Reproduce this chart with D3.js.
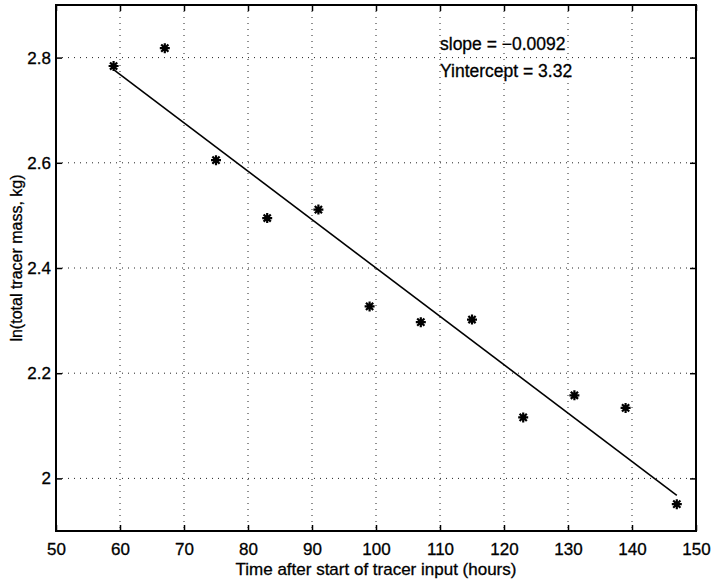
<html>
<head>
<title>Tracer mass</title>
<script src="https://d3js.org/d3.v7.min.js"></script>
<style>
body { margin: 0; background: white; }
text { font-family: "Liberation Sans", Arial, sans-serif; fill: black; stroke: black; stroke-width: 0.3px; }
.grid line { stroke: #222; stroke-width: 1; stroke-dasharray: 1,5; }
</style>
</head>
<body>
<svg width="712" height="581"></svg>
<script>
// hours after start of tracer input
var hours = [59, 67, 75, 83, 91, 99, 107, 115, 123, 131, 139, 147];
// ln(total tracer mass, kg)
var lnMass = [2.784, 2.818, 2.605, 2.495, 2.511, 2.327, 2.297, 2.302, 2.116, 2.158, 2.134, 1.951];
var slope = -0.0092;
var yIntercept = 3.32;
var xTicks = [50, 60, 70, 80, 90, 100, 110, 120, 130, 140, 150];
var yTicks = [2, 2.2, 2.4, 2.6, 2.8];

var svg = d3.select("svg");
var pLeft = 56, pRight = 696, pTop = 5, pBottom = 531;

var x = d3.scaleLinear().domain([50, 150]).range([pLeft, pRight]);
var y = d3.scaleLinear().domain([1.9, 2.9]).range([pBottom, pTop]);

// dotted grid
var grid = svg.append("g").attr("class", "grid");
grid.selectAll(".gx").data(xTicks.slice(1, -1)).enter().append("line")
  .attr("x1", d => x(d)).attr("x2", d => x(d))
  .attr("y1", pTop).attr("y2", pBottom);
grid.selectAll(".gy").data(yTicks).enter().append("line")
  .attr("y1", d => y(d)).attr("y2", d => y(d))
  .attr("x1", pLeft).attr("x2", pRight);

// axes with inward ticks
svg.append("g").attr("transform", "translate(0," + pBottom + ")")
  .call(d3.axisBottom(x).tickValues(xTicks).tickSize(-6).tickPadding(12).tickFormat(d3.format("d")))
  .call(g => g.select(".domain").remove())
  .call(g => g.selectAll("text").style("font-size", "17px"));
svg.append("g").attr("transform", "translate(0," + pTop + ")")
  .call(d3.axisTop(x).tickValues(xTicks).tickSize(-6).tickFormat(""))
  .call(g => g.select(".domain").remove());
svg.append("g").attr("transform", "translate(" + pLeft + ",0)")
  .call(d3.axisLeft(y).tickValues(yTicks).tickSize(-6).tickPadding(5).tickFormat(d => d === 2 ? "2" : d3.format(".1f")(d)))
  .call(g => g.select(".domain").remove())
  .call(g => g.selectAll("text").style("font-size", "17px"));
svg.append("g").attr("transform", "translate(" + pRight + ",0)")
  .call(d3.axisRight(y).tickValues(yTicks).tickSize(-6).tickFormat(""))
  .call(g => g.select(".domain").remove());
svg.selectAll(".tick line").attr("stroke", "black").attr("stroke-width", 1.5);

// frame
svg.append("rect").attr("x", pLeft).attr("y", pTop)
  .attr("width", pRight - pLeft).attr("height", pBottom - pTop)
  .attr("fill", "none").attr("stroke", "black").attr("stroke-width", 2);

// fitted line
var x0 = d3.min(hours), x1 = d3.max(hours);
svg.append("line")
  .attr("x1", x(x0)).attr("y1", y(yIntercept + slope * x0))
  .attr("x2", x(x1)).attr("y2", y(yIntercept + slope * x1))
  .attr("stroke", "black").attr("stroke-width", 1.6);

// asterisk markers
var star = "M-5,0H5M0,-5V5M-3.6,-3.6L3.6,3.6M-3.6,3.6L3.6,-3.6";
svg.append("g").selectAll("path").data(hours).enter().append("path")
  .attr("transform", (d, i) => "translate(" + x(d) + "," + y(lnMass[i]) + ")")
  .attr("d", star).attr("stroke", "black").attr("stroke-width", 2.2).attr("fill", "none");

// annotations
svg.append("text").attr("x", 440).attr("y", 50).style("font-size", "17.5px").text("slope = \u22120.0092");
svg.append("text").attr("x", 440).attr("y", 77).style("font-size", "17.5px").text("Yintercept = 3.32");

// axis labels
svg.append("text").attr("x", (pLeft + pRight) / 2).attr("y", 575)
  .style("text-anchor", "middle").style("font-size", "17px")
  .text("Time after start of tracer input (hours)");
svg.append("text").attr("transform", "translate(22,258) rotate(-90)")
  .style("text-anchor", "middle").style("font-size", "16px")
  .text("ln(total tracer mass, kg)");
</script>
</body>
</html>
